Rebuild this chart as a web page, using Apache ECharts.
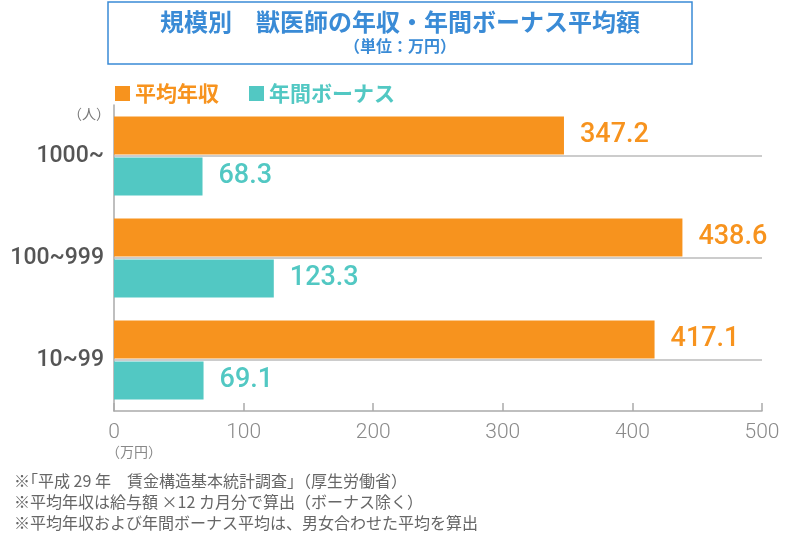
<!DOCTYPE html>
<html><head><meta charset="utf-8">
<script src="https://cdn.jsdelivr.net/npm/echarts@6/dist/echarts.min.js"></script>
<style>html,body{margin:0;padding:0;background:#fff}#c{width:800px;height:533px}</style>
</head><body><div id="c"></div>
<script>
const categories = ['1000~', '100~999', '10~99'];
const annualIncome = [347.2, 438.6, 417.1];
const annualBonus = [68.3, 123.3, 69.1];
const xTicks = [0, 100, 200, 300, 400, 500];
const seriesNames = ['平均年収', '年間ボーナス'];
const titleText = '規模別　獣医師の年収・年間ボーナス平均額';
const subText = '（単位：万円）';
const notes = [
  '※｢平成 29 年　賃金構造基本統計調査｣（厚生労働省）',
  '※平均年収は給与額 ×12 カ月分で算出（ボーナス除く）',
  '※平均年収および年間ボーナス平均は、男女合わせた平均を算出'
];
const ORANGE = '#F7931E', TEAL = '#52C8C3', BLUE = '#3A8BD6';
const JP = '"Noto Sans CJK JP", "Noto Sans", sans-serif';
const NUM = 'Roboto, "Noto Sans", sans-serif';

const chart = echarts.init(document.getElementById('c'));
chart.setOption({
  animation: false,
  backgroundColor: '#fff',
  title: {
    text: titleText, subtext: subText, left: 'center', top: 5, itemGap: 4,
    textStyle: {color: BLUE, fontSize: 24, fontWeight: 'bold', fontFamily: JP},
    subtextStyle: {color: BLUE, fontSize: 16, fontWeight: 'bold', fontFamily: JP}
  },
  legend: {
    left: 110, top: 78, itemWidth: 15, itemHeight: 15, itemGap: 30, icon: 'rect',
    selectedMode: false,
    data: [
      {name: seriesNames[0], textStyle: {color: ORANGE}},
      {name: seriesNames[1], textStyle: {color: TEAL}}
    ],
    textStyle: {fontSize: 21, fontWeight: 'bold', fontFamily: JP}
  },
  grid: {left: 114, right: 38, top: 105, bottom: 122, containLabel: false},
  xAxis: {
    type: 'value', min: xTicks[0], max: xTicks[xTicks.length - 1], interval: 100,
    axisLine: {show: true, lineStyle: {color: '#aaa', width: 1.5}},
    axisTick: {show: true, inside: true, length: 8, lineStyle: {color: '#aaa', width: 1.5}},
    splitLine: {show: false},
    axisLabel: {color: '#8a8a8a', fontSize: 21, fontFamily: NUM, fontWeight: 300, margin: 11}
  },
  yAxis: {
    type: 'category', data: categories, inverse: true,
    axisLine: {show: true, lineStyle: {color: '#aaa', width: 1.5}},
    axisTick: {show: false},
    axisLabel: {color: '#555', fontSize: 23, fontFamily: NUM, fontWeight: 500, margin: 10}
  },
  series: [
    {
      name: seriesNames[0], type: 'bar', data: annualIncome, barWidth: 38, barGap: '8%',
      itemStyle: {color: ORANGE},
      label: {show: true, position: 'right', distance: 16, color: ORANGE, fontSize: 27, fontWeight: 500, fontFamily: NUM}
    },
    {
      name: seriesNames[1], type: 'bar', data: annualBonus, barWidth: 38,
      itemStyle: {color: TEAL},
      label: {show: true, position: 'right', distance: 16, color: TEAL, fontSize: 27, fontWeight: 500, fontFamily: NUM}
    },
    {
      name: 'sep', type: 'line', data: categories.map(() => null), silent: true,
      symbol: 'none', z: 1,
      markLine: {
        silent: true, symbol: 'none', label: {show: false},
        lineStyle: {color: '#bbb', width: 1.5, type: 'solid'},
        data: categories.map(c => ({yAxis: c}))
      }
    }
  ],
  graphic: [
    {type: 'rect', shape: {x: 108, y: 2, width: 584, height: 62}, style: {fill: 'none', stroke: BLUE, lineWidth: 1.5}},
    {type: 'text', x: 110, y: 114, style: {text: '（人）', fill: '#777', fontSize: 14, fontFamily: JP, align: 'right', verticalAlign: 'middle'}},
    {type: 'text', x: 106, y: 452, style: {text: '（万円）', fill: '#888', fontSize: 14, fontFamily: JP, align: 'left', verticalAlign: 'middle'}},
    {type: 'text', x: 14, y: 481, style: {text: notes[0], fill: '#666', fontSize: 16, fontFamily: JP, verticalAlign: 'middle'}},
    {type: 'text', x: 14, y: 502, style: {text: notes[1], fill: '#666', fontSize: 16, fontFamily: JP, verticalAlign: 'middle'}},
    {type: 'text', x: 14, y: 523, style: {text: notes[2], fill: '#666', fontSize: 16, fontFamily: JP, verticalAlign: 'middle'}}
  ]
});
</script></body></html>
